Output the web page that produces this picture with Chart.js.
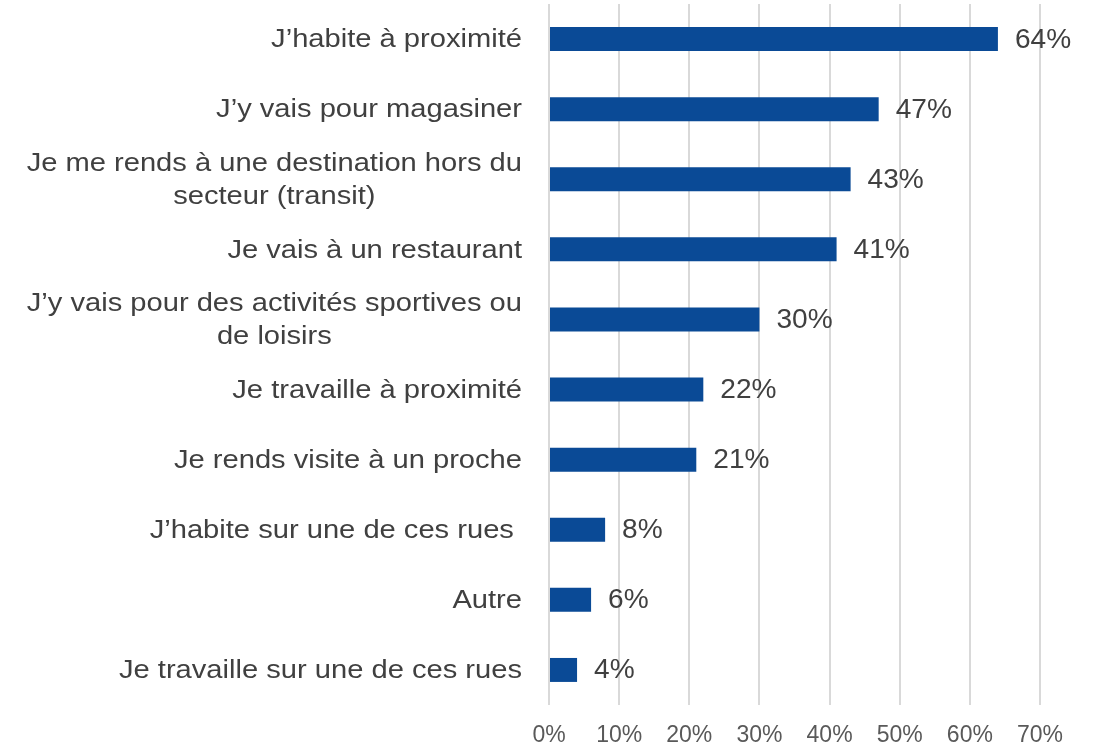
<!DOCTYPE html>
<html>
<head>
<meta charset="utf-8">
<script src="https://cdn.jsdelivr.net/npm/chart.js@4.4.1/dist/chart.umd.min.js"></script>
<style>
  html, body { margin: 0; padding: 0; background: #fff; }
  #wrap { width: 1099px; height: 746px; }
</style>
</head>
<body>
<div id="wrap"><canvas id="c"></canvas></div>
<script>
const categories = [
  ['J\u2019habite à proximité'],
  ['J\u2019y vais pour magasiner'],
  ['Je me rends à une destination hors du', 'secteur (transit)'],
  ['Je vais à un restaurant'],
  ['J\u2019y vais pour des activités sportives ou', 'de loisirs'],
  ['Je travaille à proximité'],
  ['Je rends visite à un proche'],
  ['J\u2019habite sur une de ces rues '],
  ['Autre'],
  ['Je travaille sur une de ces rues']
];
const values = [64, 47, 43, 41, 30, 22, 21, 8, 6, 4];
const tickValues = [0, 10, 20, 30, 40, 50, 60, 70];

const FONT = '"Liberation Sans", Arial, sans-serif';

// labels on the left and values at the bar ends, drawn slightly wide like the original
const textPlugin = {
  id: 'texts',
  afterDatasetsDraw(chart) {
    const ctx = chart.ctx;
    const y = chart.scales.y;
    const x = chart.scales.x;
    const sx = 1.12;
    ctx.save();
    ctx.fillStyle = '#404040';
    ctx.textBaseline = 'middle';

    ctx.font = '26px ' + FONT;
    categories.forEach((lines, i) => {
      const cy = y.getPixelForValue(i);
      const w = Math.max(...lines.map(l => ctx.measureText(l).width)) * sx;
      const cx = x.left - 27 - w / 2;
      lines.forEach((l, j) => {
        const ly = cy + (j - (lines.length - 1) / 2) * 33;
        ctx.save();
        ctx.translate(cx, ly);
        ctx.scale(sx, 1);
        ctx.textAlign = 'center';
        ctx.fillText(l, 0, 1);
        ctx.restore();
      });
    });

    ctx.font = '27px ' + FONT;
    values.forEach((v, i) => {
      const cy = y.getPixelForValue(i);
      ctx.save();
      ctx.translate(x.getPixelForValue(v) + 17, cy);
      ctx.scale(1.04, 1);
      ctx.textAlign = 'left';
      ctx.fillText(v + '%', 0, 1);
      ctx.restore();
    });
    ctx.restore();
  }
};

new Chart(document.getElementById('c'), {
  type: 'bar',
  data: {
    labels: categories,
    datasets: [{
      data: values,
      backgroundColor: '#0A4A96',
      categoryPercentage: 1,
      barPercentage: 0.342
    }]
  },
  options: {
    indexAxis: 'y',
    responsive: true,
    maintainAspectRatio: false,
    animation: false,
    layout: { padding: { top: 4, right: 59, left: 0, bottom: 0 } },
    plugins: { legend: { display: false }, tooltip: { enabled: false } },
    scales: {
      x: {
        min: 0,
        max: 70,
        afterBuildTicks: (s) => { s.ticks = tickValues.map(v => ({ value: v })); },
        ticks: {
          color: '#595959',
          font: { family: FONT, size: 23 },
          padding: 17,
          maxRotation: 0,
          callback: (v) => v + '%'
        },
        grid: { color: '#D9D9D9', lineWidth: 2, drawTicks: false },
        border: { display: false },
        afterFit: (s) => { s.height = 41; }
      },
      y: {
        ticks: { display: false },
        grid: { display: false },
        border: { display: false },
        afterFit: (s) => { s.width = 549; }
      }
    }
  },
  plugins: [textPlugin]
});
</script>
</body>
</html>
